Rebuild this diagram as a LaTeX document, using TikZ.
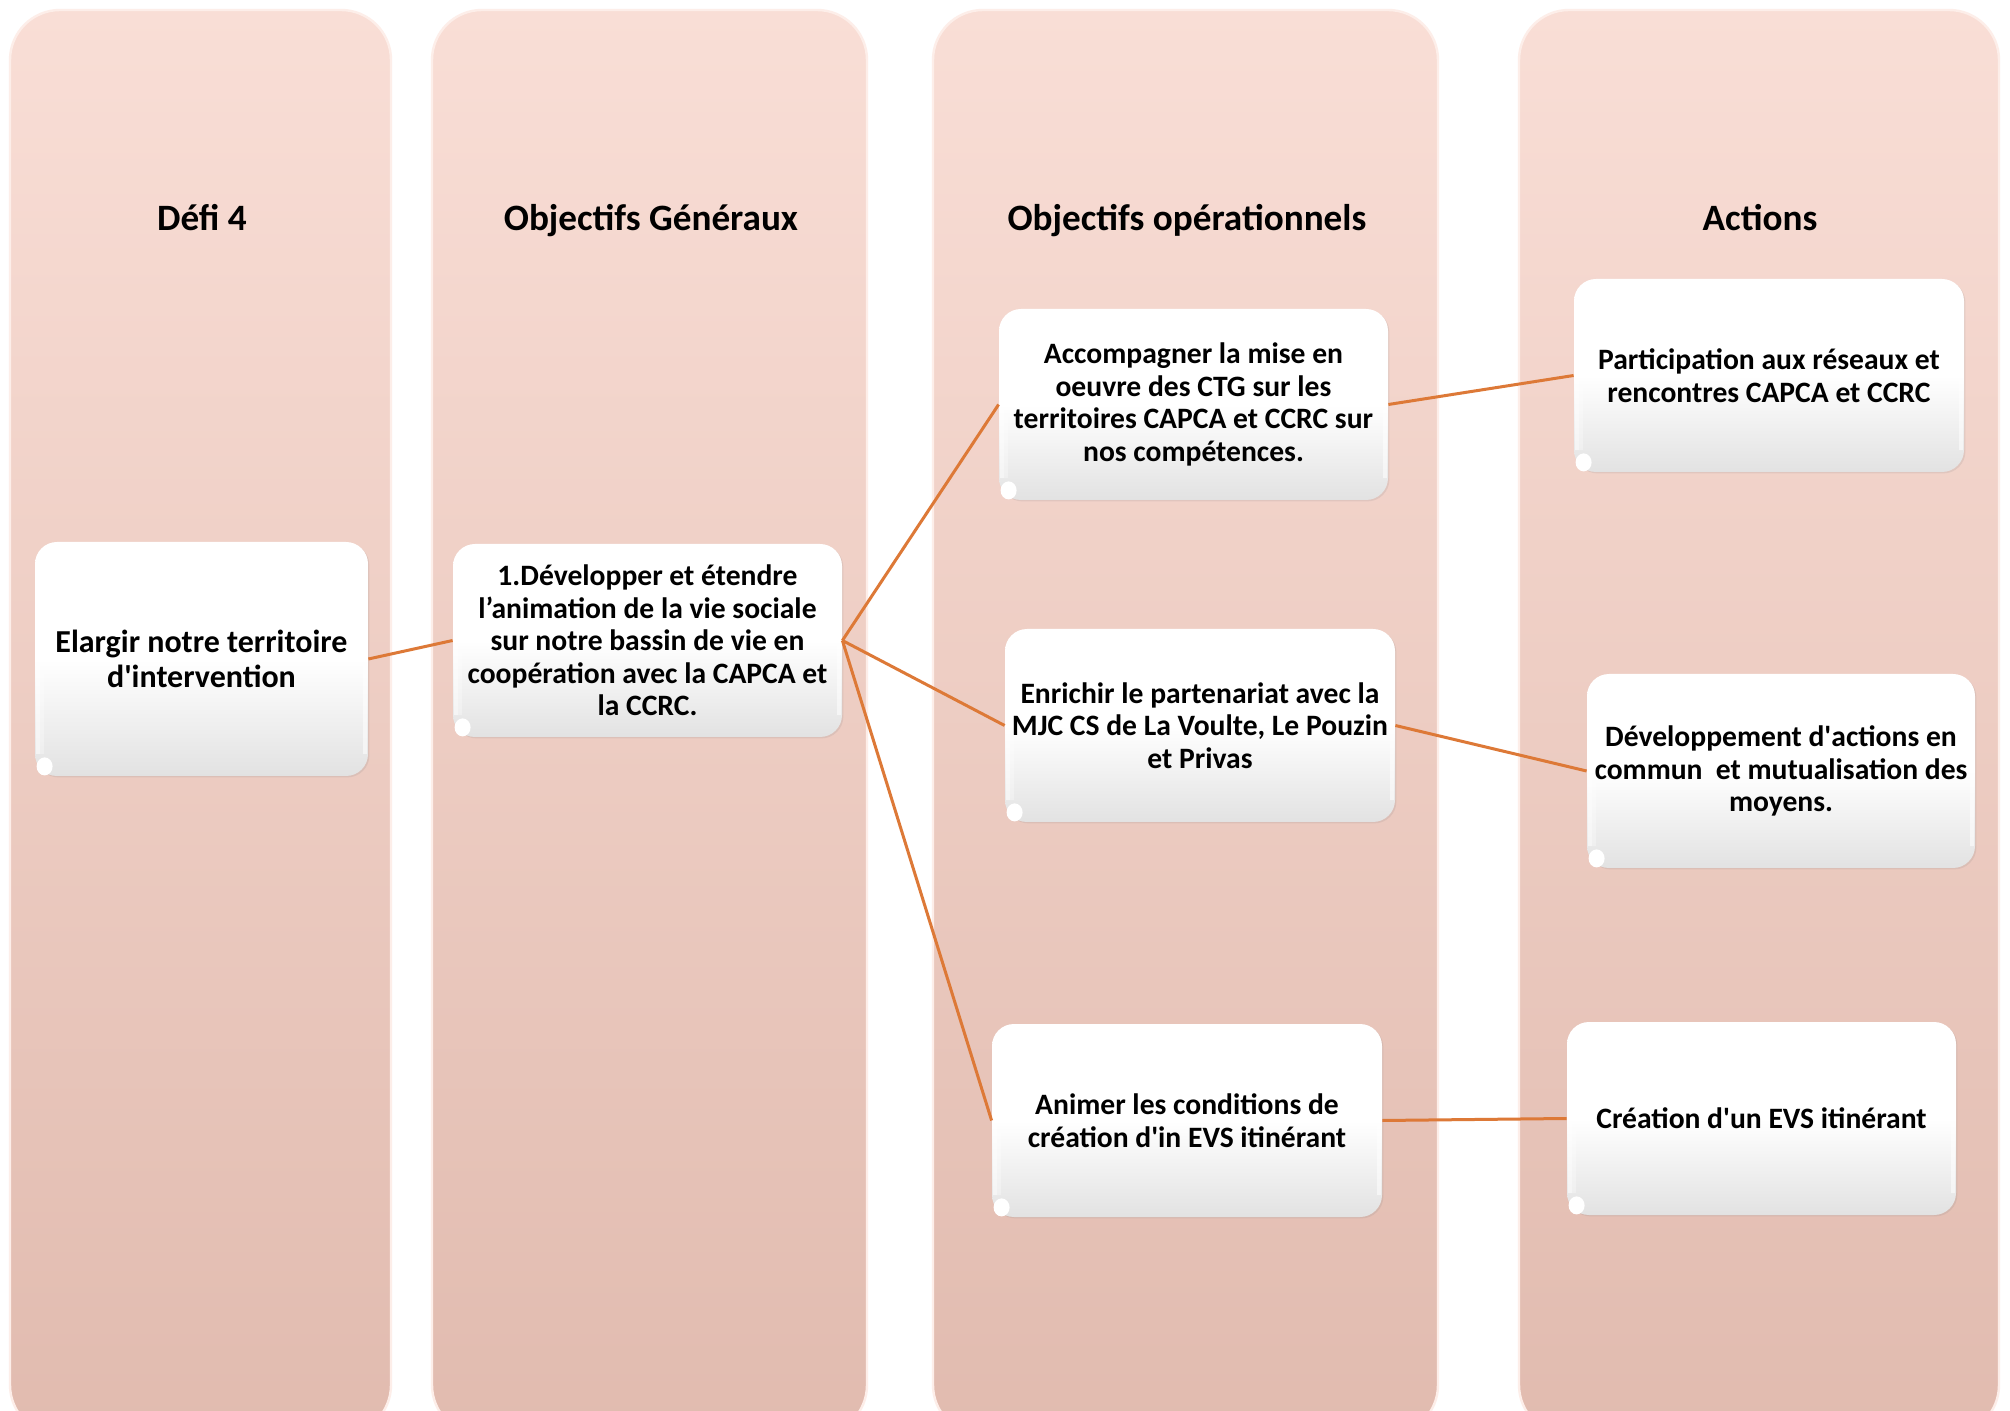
\documentclass[tikz,border=0pt]{standalone}
\usepackage{fontspec}
\setmainfont{Carlito}
\usetikzlibrary{shadows,calc}
\definecolor{colTop}{RGB}{249,222,214}
\definecolor{colBot}{RGB}{225,187,175}
\definecolor{colRim}{RGB}{253,238,233}
\definecolor{boxBot}{RGB}{226,226,226}
\definecolor{linkOrange}{RGB}{221,121,55}
\newcommand{\aposq}{\textquotesingle}
\begin{document}
\begin{tikzpicture}[x=0.5pt,y=-0.5pt,
  colbox/.style={rectangle, rounded corners=25pt, top color=colTop, bottom color=colBot,
    draw=colRim, line width=1.2pt, minimum height=712.5pt, inner sep=0pt},
  hdr/.style={font=\fontsize{18.6}{21}\selectfont\bfseries, anchor=base},
  tbox/.style={rectangle, rounded corners=11pt, top color=white, bottom color=boxBot,
    middle color=white, inner sep=0pt, align=center,
    font=\fontsize{14.8}{16.3}\selectfont\bfseries,
    drop shadow={shadow xshift=0.7pt, shadow yshift=-0.7pt, opacity=0.15}},
  lnk/.style={draw=linkOrange, line width=1.5pt}
]
\useasboundingbox (0,0) rectangle (2010,1411);
\clip (0,0) rectangle (2010,1411);
\fill[white] (0,0) rectangle (2010,1411);

% columns
\node[colbox, minimum width=190.5pt] (c1) at (200.5,722.5) {};
\node[colbox, minimum width=217.5pt] (c2) at (649.5,722.5) {};
\node[colbox, minimum width=252.5pt] (c3) at (1185.5,722.5) {};
\node[colbox, minimum width=240pt]   (c4) at (1759,722.5) {};

% headers
\node[hdr] (h1) at (202,231) {Défi 4};
\node[hdr] (h2) at (651,231) {Objectifs Généraux};
\node[hdr] (h3) at (1187,231) {Objectifs opérationnels};
\node[hdr] (h4) at (1760,231) {Actions};

% boxes
\node[tbox, minimum width=166.5pt, minimum height=117pt,
      font=\fontsize{16}{17.6}\selectfont\bfseries] (b1) at (201.5,659)
  {Elargir notre territoire\\d\aposq intervention};
\node[tbox, minimum width=194.5pt, minimum height=96.5pt] (b2) at (647.5,640.5)
  {1.Développer et étendre\\l’animation de la vie sociale\\sur notre bassin de vie en\\coopération avec la CAPCA et\\la CCRC.};
\node[tbox, minimum width=194.5pt, minimum height=95.5pt] (b3) at (1193.5,404.5)
  {Accompagner la mise en\\oeuvre des CTG sur les\\territoires CAPCA et CCRC sur\\nos compétences.};
\node[tbox, minimum width=195pt, minimum height=96.5pt] (b4) at (1200,725.5)
  {Enrichir le partenariat avec la\\MJC CS de La Voulte, Le Pouzin\\et Privas};
\node[tbox, minimum width=195pt, minimum height=96.5pt] (b5) at (1187,1120.5)
  {Animer les conditions de\\création d\aposq in EVS itinérant};
\node[tbox, minimum width=195pt, minimum height=96.5pt] (a1) at (1769,375.5)
  {Participation aux réseaux et\\rencontres CAPCA et CCRC};
\node[tbox, minimum width=194pt, minimum height=97pt] (a2) at (1781,771)
  {Développement d\aposq actions en\\commun\ \ et mutualisation des\\moyens.};
\node[tbox, minimum width=194.5pt, minimum height=96.5pt] (a3) at (1761.5,1118.5)
  {Création d\aposq un EVS itinérant};

% edge highlights and corner curls
\foreach \n in {b1,b2,b3,b4,b5,a1,a2,a3}{
  \fill[white, opacity=0.55] ([shift={(1,22)}]\n.north west) rectangle ([shift={(5,-22)}]\n.south west);
  \fill[white, opacity=0.3] ([shift={(5,22)}]\n.north west) rectangle ([shift={(9,-22)}]\n.south west);
  \fill[white, opacity=0.55] ([shift={(-5,22)}]\n.north east) rectangle ([shift={(-1,-22)}]\n.south east);
  \fill[white] ([shift={(10,-10)}]\n.south west) ellipse (8 and 9);
}

% connectors
\draw[lnk] (b1.east) -- (b2.west);
\draw[lnk] (b2.east) -- (b3.west);
\draw[lnk] (b2.east) -- (b4.west);
\draw[lnk] (b2.east) -- (b5.west);
\draw[lnk] (b3.east) -- (a1.west);
\draw[lnk] (b4.east) -- (a2.west);
\draw[lnk] (b5.east) -- (a3.west);
\end{tikzpicture}
\end{document}
